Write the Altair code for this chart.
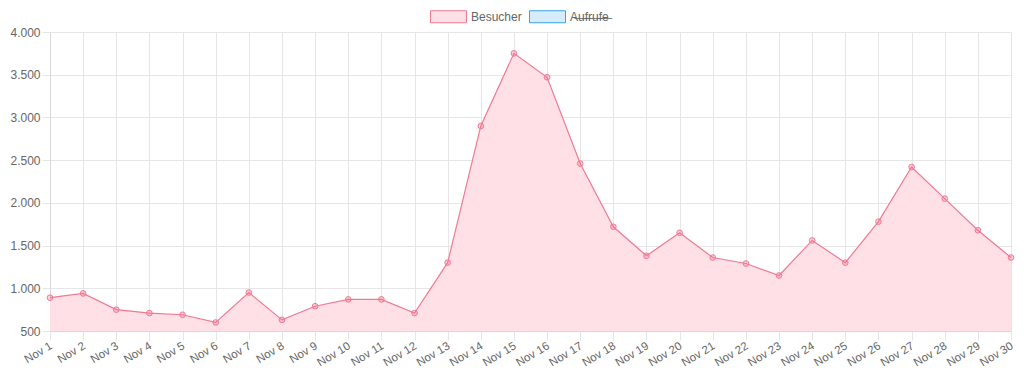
import altair as alt
import pandas as pd

days = ["Nov 1", "Nov 2", "Nov 3", "Nov 4", "Nov 5", "Nov 6", "Nov 7", "Nov 8", "Nov 9", "Nov 10",
        "Nov 11", "Nov 12", "Nov 13", "Nov 14", "Nov 15", "Nov 16", "Nov 17", "Nov 18", "Nov 19", "Nov 20",
        "Nov 21", "Nov 22", "Nov 23", "Nov 24", "Nov 25", "Nov 26", "Nov 27", "Nov 28", "Nov 29", "Nov 30"]
besucher = [890, 940, 750, 710, 690, 600, 950, 630, 790, 870,
            870, 710, 1300, 2900, 3750, 3470, 2460, 1720, 1380, 1650,
            1360, 1290, 1150, 1560, 1300, 1780, 2420, 2050, 1680, 1360]
series_names = ["Besucher", "Aufrufe"]
fill_colors = ["#ffe0e7", "#d7ecfb"]
stroke_colors = ["#f07a93", "#36a2eb"]
y_ticks = [500, 1000, 1500, 2000, 2500, 3000, 3500, 4000]

df = pd.DataFrame({"day": days, "value": besucher, "series": ["Besucher"] * len(days)})

FONT = "Liberation Sans"
GRID = "#e6e6e6"

legend = alt.Legend(
    title=None, orient="none", direction="horizontal", legendX=392, legendY=-22,
    symbolType="M-3,-1H3V1H-3Z", symbolSize=144, symbolStrokeWidth=1,
    labelOffset=16, columnPadding=5, padding=0,
    labelFont=FONT, labelFontSize=12, labelColor="#666",
    labelExpr="datum.label == 'Aufrufe' ? 'A\u0336u\u0336f\u0336r\u0336u\u0336f\u0336e\u0336' : datum.label",
)

fill_scale = alt.Scale(domain=series_names, range=fill_colors)
stroke_scale = alt.Scale(domain=series_names, range=stroke_colors)

x_enc = alt.X("day:O", sort=days, scale=alt.Scale(padding=0),
              axis=alt.Axis(title=None, labelAngle=-31, labelBaseline="middle", labelAlign="right",
                            labelOffset=1, grid=True, gridColor=GRID,
                            tickColor=GRID, tickSize=9, labelPadding=5, domainColor="#d9d9d9",
                            labelFont=FONT, labelFontSize=11.5, labelColor="#666"))
y_scale = alt.Scale(domain=[500, 4000], nice=False, zero=False)

area = alt.Chart(df).mark_area(opacity=1).encode(
    x=x_enc,
    y=alt.Y("value:Q", scale=y_scale,
            axis=alt.Axis(title=None, values=y_ticks, grid=True, gridColor=GRID,
                          tickColor=GRID, tickSize=8, labelPadding=2, domainColor="#d9d9d9",
                          labelFont=FONT, labelFontSize=12, labelColor="#666",
                          labelExpr="replace(format(datum.value, ','), ',', '.')")),
    y2=alt.datum(500),
    fill=alt.Fill("series:N", scale=fill_scale, legend=legend),
)

line = alt.Chart(df).mark_line(strokeWidth=1.2).encode(
    x=alt.X("day:O", sort=days),
    y=alt.Y("value:Q"),
    stroke=alt.Stroke("series:N", scale=stroke_scale, legend=legend),
)

points = alt.Chart(df).mark_point(filled=False, fill="#ff6384", fillOpacity=0.3, size=32, strokeWidth=1, opacity=1).encode(
    x=alt.X("day:O", sort=days),
    y=alt.Y("value:Q"),
    stroke=alt.Stroke("series:N", scale=stroke_scale, legend=legend),
)

chart = alt.layer(area, line, points).properties(
    width=961, height=299,
    autosize=alt.AutoSizeParams(type="none"),
    padding={"left": 42, "top": 24, "right": 5, "bottom": 38},
).configure_view(stroke=None)

chart.save("out.html", embed_options={"renderer": "svg", "actions": False})
